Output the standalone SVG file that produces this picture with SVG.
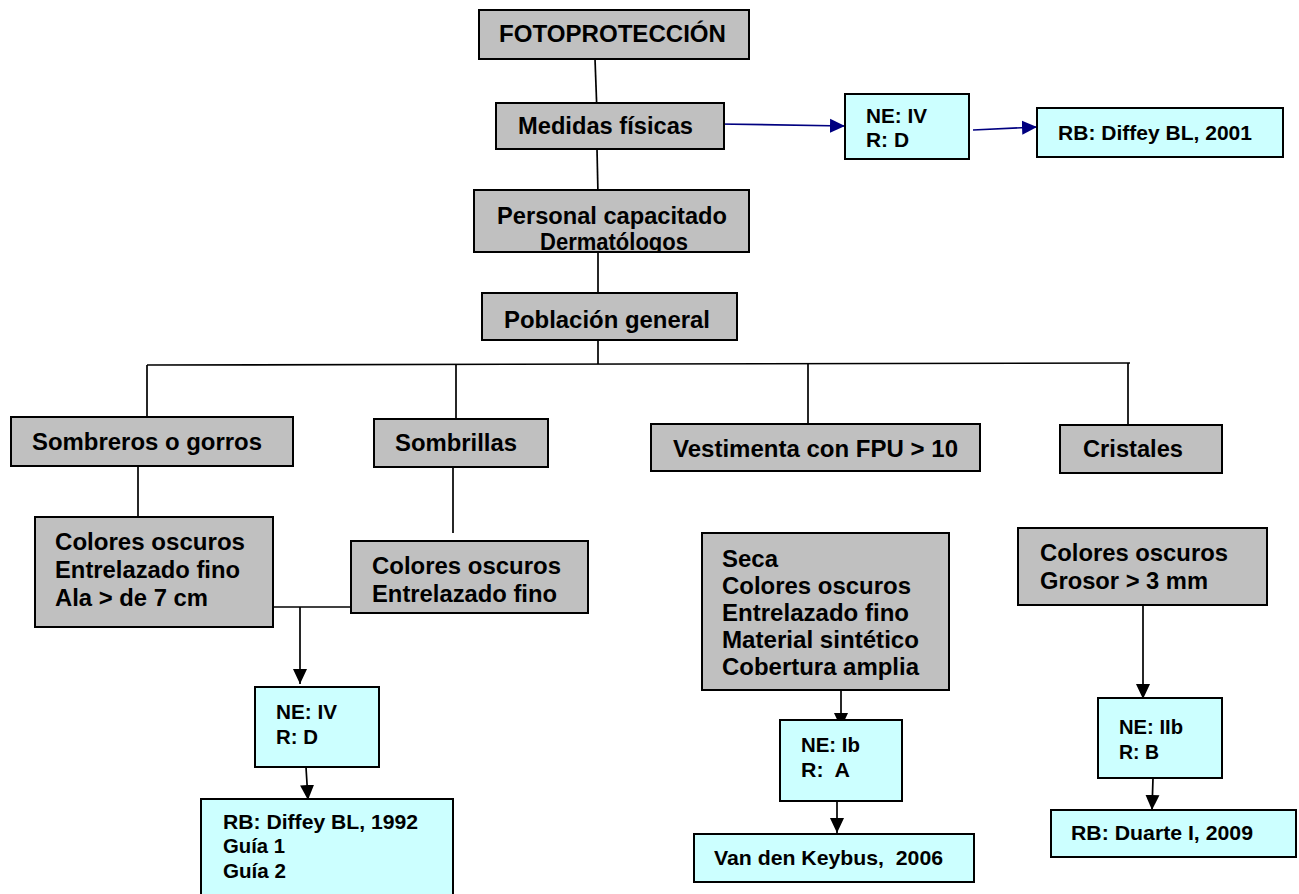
<svg xmlns="http://www.w3.org/2000/svg" width="1299" height="894" viewBox="0 0 1299 894">
<style>
.g{fill:#c0c0c0;stroke:#000;stroke-width:2}
.c{fill:#ccffff;stroke:#000;stroke-width:2}
text{font-family:"Liberation Sans",Arial,sans-serif;font-weight:bold;font-size:23px;fill:#000}
.s{font-size:21px}
.ln{stroke:#000;stroke-width:1.7;fill:none}
.ar{stroke:#000;stroke-width:1.7;fill:none;marker-end:url(#ah)}
.bl{stroke:#000080;stroke-width:1.7;fill:none;marker-end:url(#bh)}
</style>
<defs>
<marker id="ah" markerUnits="userSpaceOnUse" markerWidth="16" markerHeight="16" viewBox="0 0 16 16" refX="15" refY="8" orient="auto"><path d="M0,1 L15,8 L0,15 Z" fill="#000"/></marker>
<marker id="bh" markerUnits="userSpaceOnUse" markerWidth="16" markerHeight="16" viewBox="0 0 16 16" refX="15" refY="8" orient="auto"><path d="M0,1 L15,8 L0,15 Z" fill="#000080"/></marker>
<clipPath id="cp"><rect x="474" y="190" width="275" height="62"/></clipPath>
</defs>
<rect width="1299" height="894" fill="#fff"/>
<g id="connectors">
<path class="ln" d="M595,59 L597,113"/>
<path class="ln" d="M597,149 L598,195"/>
<path class="ln" d="M598,252 L598,293"/>
<path class="ln" d="M598,334 L598,364"/>
<path class="ln" d="M147,365 L1130,363"/>
<path class="ln" d="M147,365 L147,417"/>
<path class="ln" d="M456,365 L456,420"/>
<path class="ln" d="M808,364 L808,425"/>
<path class="ln" d="M1128,363 L1128,426"/>
<path class="ln" d="M138,466 L138,518"/>
<path class="ln" d="M453,467 L453,533"/>
<path class="ln" d="M273,607 L362,607"/>
<path class="ar" d="M300,607 L300,684"/>
<path class="ar" d="M306,767 L308,800"/>
<path class="ar" d="M841,683 L841,728"/>
<path class="ar" d="M837,790 L837,833"/>
<path class="ar" d="M1143,605 L1143,699"/>
<path class="ar" d="M1153,778 L1152,810"/>
<path class="bl" d="M718,124 L845,126"/>
<path class="bl" d="M973,130 L1037,127"/>
</g>
<g id="n-foto"><rect class="g" x="479" y="10" width="270" height="49"/><text x="499" y="42" textLength="227" lengthAdjust="spacingAndGlyphs">FOTOPROTECCIÓN</text></g>
<g id="n-medidas"><rect class="g" x="496" y="103" width="228" height="46"/><text x="518" y="134" textLength="175" lengthAdjust="spacingAndGlyphs">Medidas físicas</text></g>
<g id="n-personal"><rect class="g" x="474" y="190" width="275" height="62"/><g clip-path="url(#cp)"><text x="497" y="224" textLength="230" lengthAdjust="spacingAndGlyphs">Personal capacitado</text><text x="540" y="250" textLength="148" lengthAdjust="spacingAndGlyphs">Dermatólogos</text></g></g>
<g id="n-poblacion"><rect class="g" x="482" y="293" width="255" height="47"/><text x="504" y="328" textLength="206" lengthAdjust="spacingAndGlyphs">Población general</text></g>
<g id="n-ne1"><rect class="c" x="845" y="94" width="124" height="65"/><text class="s" x="866" y="123" textLength="61" lengthAdjust="spacingAndGlyphs">NE: IV</text><text class="s" x="866" y="147" textLength="43" lengthAdjust="spacingAndGlyphs">R: D</text></g>
<g id="n-rb2001"><rect class="c" x="1037" y="108" width="246" height="49"/><text class="s" x="1058" y="140" textLength="194" lengthAdjust="spacingAndGlyphs">RB: Diffey BL, 2001</text></g>
<g id="n-sombreros"><rect class="g" x="11" y="417" width="282" height="49"/><text x="32" y="450" textLength="230" lengthAdjust="spacingAndGlyphs">Sombreros o gorros</text></g>
<g id="n-sombrillas"><rect class="g" x="374" y="419" width="174" height="48"/><text x="395" y="451" textLength="122" lengthAdjust="spacingAndGlyphs">Sombrillas</text></g>
<g id="n-vestimenta"><rect class="g" x="651" y="424" width="329" height="47"/><text x="673" y="457" textLength="285" lengthAdjust="spacingAndGlyphs">Vestimenta con FPU &gt; 10</text></g>
<g id="n-cristales"><rect class="g" x="1060" y="425" width="162" height="48"/><text x="1083" y="457" textLength="100" lengthAdjust="spacingAndGlyphs">Cristales</text></g>
<g id="n-col1"><rect class="g" x="35" y="517" width="238" height="110"/><text x="55" y="550" textLength="190" lengthAdjust="spacingAndGlyphs">Colores oscuros</text><text x="55" y="578" textLength="185" lengthAdjust="spacingAndGlyphs">Entrelazado fino</text><text x="55" y="606" textLength="153" lengthAdjust="spacingAndGlyphs">Ala &gt; de 7 cm</text></g>
<g id="n-col2"><rect class="g" x="351" y="541" width="237" height="72"/><text x="372" y="574" textLength="189" lengthAdjust="spacingAndGlyphs">Colores oscuros</text><text x="372" y="602" textLength="185" lengthAdjust="spacingAndGlyphs">Entrelazado fino</text></g>
<g id="n-ne2"><rect class="c" x="255" y="687" width="124" height="80"/><text class="s" x="276" y="719" textLength="61" lengthAdjust="spacingAndGlyphs">NE: IV</text><text class="s" x="276" y="744" textLength="42" lengthAdjust="spacingAndGlyphs">R: D</text></g>
<g id="n-rb1992"><rect class="c" x="201" y="799" width="252" height="100"/><text class="s" x="223" y="829" textLength="195" lengthAdjust="spacingAndGlyphs">RB: Diffey BL, 1992</text><text class="s" x="223" y="853" textLength="62" lengthAdjust="spacingAndGlyphs">Guía 1</text><text class="s" x="223" y="878" textLength="63" lengthAdjust="spacingAndGlyphs">Guía 2</text></g>
<g id="n-seca"><rect class="g" x="702" y="533" width="247" height="157"/><text x="722" y="567" textLength="56" lengthAdjust="spacingAndGlyphs">Seca</text><text x="722" y="594" textLength="189" lengthAdjust="spacingAndGlyphs">Colores oscuros</text><text x="722" y="621" textLength="187" lengthAdjust="spacingAndGlyphs">Entrelazado fino</text><text x="722" y="648" textLength="197" lengthAdjust="spacingAndGlyphs">Material sintético</text><text x="722" y="675" textLength="197" lengthAdjust="spacingAndGlyphs">Cobertura amplia</text></g>
<g id="n-ne3"><rect class="c" x="780" y="720" width="122" height="81"/><text class="s" x="801" y="752" textLength="59" lengthAdjust="spacingAndGlyphs">NE: Ib</text><text class="s" x="801" y="777" textLength="49" lengthAdjust="spacingAndGlyphs">R:&#160; A</text></g>
<g id="n-van"><rect class="c" x="694" y="834" width="280" height="48"/><text class="s" x="714" y="865" textLength="229" lengthAdjust="spacingAndGlyphs">Van den Keybus,&#160; 2006</text></g>
<g id="n-col3"><rect class="g" x="1018" y="528" width="249" height="77"/><text x="1040" y="561" textLength="188" lengthAdjust="spacingAndGlyphs">Colores oscuros</text><text x="1040" y="589" textLength="168" lengthAdjust="spacingAndGlyphs">Grosor &gt; 3 mm</text></g>
<g id="n-ne4"><rect class="c" x="1098" y="698" width="124" height="80"/><text class="s" x="1119" y="734" textLength="64" lengthAdjust="spacingAndGlyphs">NE: IIb</text><text class="s" x="1119" y="759" textLength="40" lengthAdjust="spacingAndGlyphs">R: B</text></g>
<g id="n-duarte"><rect class="c" x="1051" y="810" width="245" height="47"/><text class="s" x="1071" y="840" textLength="182" lengthAdjust="spacingAndGlyphs">RB: Duarte I, 2009</text></g>
</svg>
